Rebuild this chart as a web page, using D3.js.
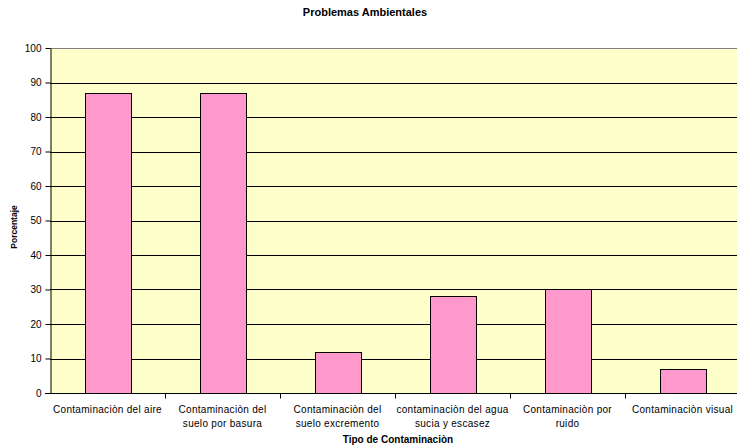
<!DOCTYPE html>
<meta charset="utf-8">
<style>
  body { margin: 0; background: #fff; }
  text { font-family: "Liberation Sans", Arial, sans-serif; fill: #000; }
</style>
<body>
<script src="https://d3js.org/d3.v7.min.js"></script>
<script>

var categories = [
  ["Contaminaciòn del aire"],
  ["Contaminaciòn del", "suelo por basura"],
  ["Contaminaciòn del", "suelo excremento"],
  ["contaminaciòn del agua", "sucia y escasez"],
  ["Contaminaciòn por", "ruido"],
  ["Contaminaciòn visual"]
];
var values = [87, 87, 12, 28, 30, 7];
var yTicks = [0, 10, 20, 30, 40, 50, 60, 70, 80, 90, 100];

var W = 737, H = 448;
var plotLeft = 50, plotTop = 48, plotRight = 740, plotBottom = 393;

var svg = d3.select("body").append("svg")
    .attr("width", W)
    .attr("height", H);

var x = d3.scaleBand()
    .domain(d3.range(categories.length))
    .range([plotLeft, plotRight])
    .paddingInner(0);

var y = d3.scaleLinear()
    .domain([0, 100])
    .range([plotBottom, plotTop]);

// plot background
svg.append("rect")
    .attr("x", plotLeft)
    .attr("y", plotTop)
    .attr("width", plotRight - plotLeft)
    .attr("height", plotBottom - plotTop)
    .attr("fill", "#FFFFCC");

// gridlines
svg.append("g")
  .selectAll("line")
  .data(yTicks.filter(function(d) { return d > 0 && d < 100; }))
  .join("line")
    .attr("x1", plotLeft)
    .attr("x2", plotRight)
    .attr("y1", function(d) { return Math.round(y(d)) + 0.5; })
    .attr("y2", function(d) { return Math.round(y(d)) + 0.5; })
    .attr("stroke", "#000")
    .attr("stroke-width", 1);

// top border
svg.append("line")
    .attr("x1", plotLeft).attr("x2", plotRight)
    .attr("y1", plotTop + 0.5).attr("y2", plotTop + 0.5)
    .attr("stroke", "#808080");

// bars
var bw = x.bandwidth() * 0.4;
svg.append("g")
  .selectAll("rect")
  .data(values)
  .join("rect")
    .attr("x", function(d, i) { return Math.round(x(i) + (x.bandwidth() - bw) / 2) + 0.5; })
    .attr("y", function(d) { return Math.round(y(d)) + 0.5; })
    .attr("width", Math.round(bw))
    .attr("height", function(d) { return Math.round(y(0)) - Math.round(y(d)); })
    .attr("fill", "#FF99CC")
    .attr("stroke", "#000")
    .attr("stroke-width", 1);

// y axis
var yAxis = svg.append("g")
    .attr("transform", "translate(" + (plotLeft + 0.5) + ",0)")
    .call(d3.axisLeft(y).tickValues(yTicks).tickSize(5).tickPadding(4).tickSizeOuter(0));
yAxis.select(".domain").attr("stroke", "#000");
yAxis.selectAll("text").attr("font-size", "10px").attr("font-family", "Liberation Sans, Arial, sans-serif");

// x axis
var xAxis = svg.append("g")
    .attr("transform", "translate(0," + (Math.round(y(0)) + 0.5) + ")");
xAxis.append("line")
    .attr("x1", plotLeft - 5).attr("x2", plotRight)
    .attr("stroke", "#000");
xAxis.selectAll("line.tick")
  .data(d3.range(1, categories.length))
  .join("line")
    .attr("class", "tick")
    .attr("x1", function(d) { return Math.round(x(d)) + 0.5; })
    .attr("x2", function(d) { return Math.round(x(d)) + 0.5; })
    .attr("y1", 0).attr("y2", 5)
    .attr("stroke", "#000");

var labels = xAxis.selectAll("text.cat")
  .data(categories)
  .join("text")
    .attr("class", "cat")
    .attr("text-anchor", "middle")
    .attr("font-size", "10px")
    .attr("letter-spacing", "0.3px")
    .attr("x", function(d, i) { return x(i) + x.bandwidth() / 2; });
labels.selectAll("tspan")
  .data(function(d) { return d; })
  .join("tspan")
    .attr("x", function() { return d3.select(this.parentNode).attr("x"); })
    .attr("y", function(d, j) { return 19 + j * 14; })
    .text(function(d) { return d; });

// titles
svg.append("text")
    .attr("x", 365)
    .attr("y", 16)
    .attr("text-anchor", "middle")
    .attr("font-size", "11px")
    .attr("font-weight", "bold")
    .style("font-family", "'Liberation Sans Narrow', 'Arial Narrow', 'Liberation Sans', sans-serif")
    .text("Problemas Ambientales");

svg.append("text")
    .attr("x", 398)
    .attr("y", 443)
    .attr("text-anchor", "middle")
    .attr("font-size", "10px")
    .attr("font-weight", "bold")
    .text("Tipo de Contaminaciòn");

svg.append("text")
    .attr("transform", "translate(17,227) rotate(-90)")
    .attr("text-anchor", "middle")
    .attr("font-size", "8.5px")
    .attr("font-weight", "bold")
    .text("Porcentaje");

</script>
</body>
